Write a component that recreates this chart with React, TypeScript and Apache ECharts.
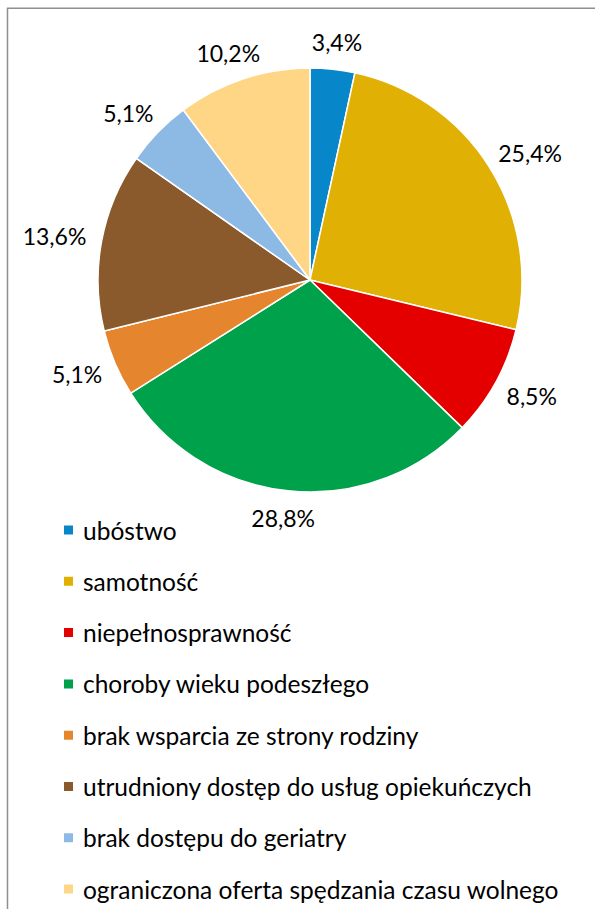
import React, { useEffect, useRef } from "react";
import * as echarts from "echarts";

const categories = [
  "ubóstwo",
  "samotność",
  "niepełnosprawność",
  "choroby wieku podeszłego",
  "brak wsparcia ze strony rodziny",
  "utrudniony dostęp do usług opiekuńczych",
  "brak dostępu do geriatry",
  "ograniczona oferta spędzania czasu wolnego",
];
const values = [3.4, 25.4, 8.5, 28.8, 5.1, 13.6, 5.1, 10.2];
const colors = ["#0787C9", "#E1B005", "#E50000", "#00A14B", "#E5852E", "#8A5A2C", "#8DB9E5", "#FFD686"];

const FONT = "Lato";

export default function App() {
  const ref = useRef<HTMLDivElement>(null);
  useEffect(() => {
    if (!ref.current) return;
    const chart = echarts.init(ref.current, null, { renderer: "svg" });
    const data = categories.map((name, i) => ({
      name,
      value: values[i],
      itemStyle: { color: colors[i] },
    }));
    const gap = 16;
    chart.setOption({
      animation: false,
      backgroundColor: "#ffffff",
      graphic: [
        {
          type: "rect",
          shape: { x: 7.5, y: 8.2, width: 700, height: 1000 },
          style: { fill: "none", stroke: "#8f8f8f", lineWidth: 1.5 },
          silent: true,
          z: 100,
        },
      ],
      legend: {
        orient: "vertical",
        left: 62,
        top: 517,
        height: 420,
        padding: 0,
        icon: "rect",
        itemWidth: 11,
        itemHeight: 11,
        itemGap: 25.3,
        data: categories,
        textStyle: {
          fontFamily: FONT,
          fontSize: 24.5,
          color: "#000000",
          lineHeight: 26,
          padding: [0, 0, 0, 4],
        },
      },
      series: [
        {
          type: "pie",
          center: [310, 280],
          radius: [0, 212],
          startAngle: 90,
          clockwise: true,
          avoidLabelOverlap: false,
          itemStyle: { borderColor: "#ffffff", borderWidth: 1.5 },
          label: {
            show: true,
            position: "outside",
            fontFamily: FONT,
            fontSize: 23,
            color: "#000000",
            formatter: (p: any) => String(p.value).replace(".", ",") + "%",
          },
          labelLine: { show: false, length: 10, length2: 0 },
          labelLayout: (params: any) => {
            const pts = params.labelLinePoints;
            if (!pts) return {};
            const p1 = pts[0];
            const p2 = pts[1];
            let ux = p2[0] - p1[0];
            let uy = p2[1] - p1[1];
            const len = Math.sqrt(ux * ux + uy * uy) || 1;
            ux /= len;
            uy /= len;
            const w = params.labelRect.width;
            const h = params.labelRect.height;
            return {
              x: p1[0] + ux * gap + (ux * w) / 2,
              y: p1[1] + uy * gap + (uy * h) / 2,
              align: "center",
              verticalAlign: "middle",
            };
          },
          emphasis: { disabled: true },
          data,
        },
      ],
    });
    return () => chart.dispose();
  }, []);
  return (
    <div
      ref={ref}
      style={{ position: "absolute", left: 0, top: 0, width: 595, height: 909 }}
    />
  );
}
